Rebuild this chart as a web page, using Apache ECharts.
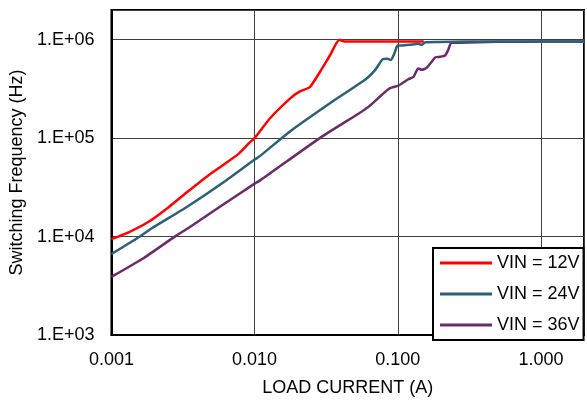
<!DOCTYPE html>
<html>
<head>
<meta charset="utf-8">
<script src="https://cdn.jsdelivr.net/npm/echarts@6/dist/echarts.min.js"></script>
<style>html,body{margin:0;padding:0;background:#fff;}#c{width:587px;height:402px;}</style>
</head>
<body>
<div id="c"></div>
<script>
const seriesNames = ['VIN = 12V', 'VIN = 24V', 'VIN = 36V'];
const xTickValues = [0.001, 0.01, 0.1, 1];
const yTickValues = [1e3, 1e4, 1e5, 1e6];

const vin12_x = [0.001, 0.00133, 0.00183, 0.00252, 0.0034, 0.00477, 0.0061, 0.0078, 0.0093, 0.01, 0.01282, 0.01766, 0.0207, 0.0243, 0.0285, 0.0334, 0.0392, 0.0424, 0.06, 0.1, 0.152];
const vin12_y = [9.4e3, 1.11e4, 1.42e4, 2.0e4, 2.85e4, 4.2e4, 5.4e4, 7.0e4, 9.1e4, 1.0e5, 1.59e5, 2.52e5, 2.98e5, 3.3e5, 4.66e5, 6.82e5, 9.95e5, 9.6e5, 9.6e5, 9.6e5, 9.6e5];

const vin24_x = [0.001, 0.00156, 0.00189, 0.0034, 0.0061, 0.01, 0.01094, 0.01766, 0.0334, 0.06, 0.0703, 0.0782, 0.0847, 0.0891, 0.0942, 0.0985, 0.1, 0.12, 0.139, 0.147, 0.156, 0.193, 0.3, 0.5, 1, 2];
const vin24_y = [6.65e3, 9.9e3, 1.2e4, 2.02e4, 3.58e4, 6.05e4, 6.6e4, 1.17e5, 2.25e5, 3.99e5, 5.02e5, 6.3e5, 6.4e5, 6.2e5, 7.1e5, 8.5e5, 8.7e5, 8.85e5, 9.1e5, 8.85e5, 9.4e5, 9.45e5, 9.55e5, 9.6e5, 9.6e5, 9.6e5];

const vin36_x = [0.001, 0.00165, 0.0028, 0.00347, 0.006, 0.01, 0.01094, 0.0285, 0.0538, 0.063, 0.0868, 0.101, 0.1197, 0.129, 0.139, 0.147, 0.16, 0.183, 0.198, 0.214, 0.226, 0.236, 0.265, 0.5, 1, 2];
const vin36_y = [3.89e3, 5.94e3, 1.01e4, 1.23e4, 2.1e4, 3.45e4, 3.72e4, 1.0e5, 1.79e5, 2.1e5, 3.17e5, 3.42e5, 3.99e5, 4.2e5, 5.1e5, 4.94e5, 5.2e5, 6.6e5, 6.7e5, 6.9e5, 7.95e5, 9.27e5, 9.3e5, 9.5e5, 9.55e5, 9.55e5];

const colors = ['#ff0000', '#2b6077', '#6a2b69'];
const FONT = 'Liberation Sans, Arial, sans-serif';

function pairs(xs, ys) { return xs.map((x, i) => [x, ys[i]]); }
function isTick(v, list) { return list.some(t => Math.abs(Math.log10(v) - Math.log10(t)) < 1e-6); }

const lineCommon = {type: 'line', showSymbol: false, symbol: 'none', smooth: 0.2, lineStyle: {width: 2.5}};

const chart = echarts.init(document.getElementById('c'), null, {renderer: 'canvas'});
chart.setOption({
  animation: false,
  color: colors,
  grid: {left: 110, right: 1, top: 10, bottom: 61, show: true, borderColor: '#000', borderWidth: 2, backgroundColor: 'transparent'},
  xAxis: {
    type: 'log', logBase: 10, min: 0.001, max: 2,
    name: 'LOAD CURRENT (A)', nameLocation: 'middle', nameGap: 44,
    nameTextStyle: {fontFamily: FONT, fontSize: 18, color: '#000'},
    axisLine: {show: true, lineStyle: {color: '#000', width: 2}},
    axisTick: {show: false},
    axisLabel: {fontFamily: FONT, fontSize: 18, color: '#000', margin: 16,
      formatter: v => isTick(v, xTickValues) ? v.toFixed(3) : ''},
    splitLine: {show: true, lineStyle: {color: '#404040', width: 1}}
  },
  yAxis: {
    type: 'log', logBase: 10, min: 1e3, max: 2e6,
    name: 'Switching Frequency (Hz)', nameLocation: 'middle', nameGap: 84,
    nameTextStyle: {fontFamily: FONT, fontSize: 18, color: '#000'},
    axisLine: {show: true, lineStyle: {color: '#000', width: 2}},
    axisTick: {show: false},
    axisLabel: {fontFamily: FONT, fontSize: 18, color: '#000', margin: 17,
      formatter: v => isTick(v, yTickValues) ? ('1.E+0' + Math.round(Math.log10(v))) : ''},
    splitLine: {show: true, lineStyle: {color: '#404040', width: 1}}
  },
  legend: {
    orient: 'vertical', left: 433, top: 248,
    padding: [5, 4, 5, 7],
    itemGap: 11, itemWidth: 52, itemHeight: 3, icon: 'rect',
    backgroundColor: '#fff', borderColor: '#000', borderWidth: 2, borderRadius: 0,
    textStyle: {fontFamily: FONT, fontSize: 18, color: '#000', lineHeight: 20},
    data: seriesNames
  },
  series: [
    Object.assign({name: seriesNames[0], data: pairs(vin12_x, vin12_y), z: 5}, lineCommon),
    Object.assign({name: seriesNames[1], data: pairs(vin24_x, vin24_y), z: 4}, lineCommon),
    Object.assign({name: seriesNames[2], data: pairs(vin36_x, vin36_y), z: 3}, lineCommon)
  ]
});
</script>
</body>
</html>
